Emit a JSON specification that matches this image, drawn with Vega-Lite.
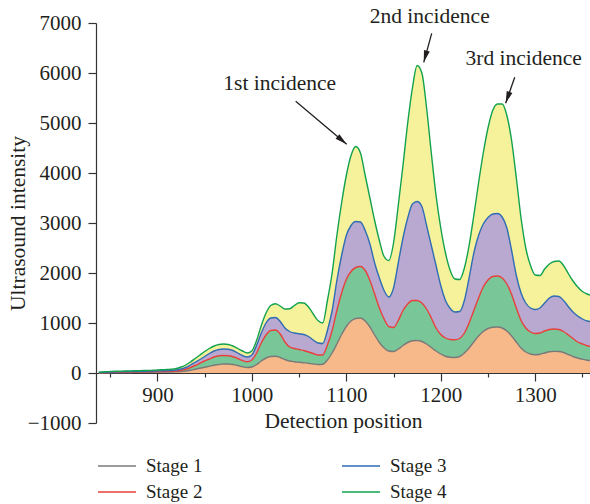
{
  "$schema": "https://vega.github.io/schema/vega-lite/v6.json",
  "width": 494,
  "height": 400,
  "autosize": {"type": "none"},
  "padding": {"left": 96, "top": 23, "right": 0, "bottom": 81},
  "background": "white",
  "config": {"view": {"stroke": null}, "font": "Liberation Serif"},
  "datasets": {
    "curves": [
      {"x":838,"Stage 1":0,"Stage 2":5,"Stage 3":10,"Stage 4":15},
      {"x":845,"Stage 1":5,"Stage 2":10,"Stage 3":15,"Stage 4":25},
      {"x":850,"Stage 1":5,"Stage 2":12,"Stage 3":20,"Stage 4":30},
      {"x":855,"Stage 1":8,"Stage 2":15,"Stage 3":22,"Stage 4":35},
      {"x":860,"Stage 1":8,"Stage 2":15,"Stage 3":25,"Stage 4":35},
      {"x":865,"Stage 1":10,"Stage 2":18,"Stage 3":28,"Stage 4":40},
      {"x":870,"Stage 1":10,"Stage 2":20,"Stage 3":30,"Stage 4":40},
      {"x":875,"Stage 1":12,"Stage 2":20,"Stage 3":30,"Stage 4":45},
      {"x":880,"Stage 1":12,"Stage 2":22,"Stage 3":32,"Stage 4":45},
      {"x":885,"Stage 1":15,"Stage 2":25,"Stage 3":35,"Stage 4":50},
      {"x":890,"Stage 1":15,"Stage 2":25,"Stage 3":38,"Stage 4":50},
      {"x":895,"Stage 1":15,"Stage 2":28,"Stage 3":40,"Stage 4":55},
      {"x":900,"Stage 1":18,"Stage 2":30,"Stage 3":42,"Stage 4":60},
      {"x":905,"Stage 1":18,"Stage 2":30,"Stage 3":45,"Stage 4":65},
      {"x":910,"Stage 1":20,"Stage 2":32,"Stage 3":48,"Stage 4":70},
      {"x":915,"Stage 1":20,"Stage 2":35,"Stage 3":50,"Stage 4":75},
      {"x":920,"Stage 1":25,"Stage 2":40,"Stage 3":60,"Stage 4":90},
      {"x":925,"Stage 1":30,"Stage 2":55,"Stage 3":80,"Stage 4":120},
      {"x":930,"Stage 1":40,"Stage 2":75,"Stage 3":110,"Stage 4":160},
      {"x":935,"Stage 1":55,"Stage 2":110,"Stage 3":160,"Stage 4":220},
      {"x":940,"Stage 1":75,"Stage 2":150,"Stage 3":215,"Stage 4":290},
      {"x":945,"Stage 1":95,"Stage 2":195,"Stage 3":270,"Stage 4":360},
      {"x":950,"Stage 1":115,"Stage 2":240,"Stage 3":330,"Stage 4":430},
      {"x":955,"Stage 1":135,"Stage 2":280,"Stage 3":390,"Stage 4":490},
      {"x":960,"Stage 1":155,"Stage 2":320,"Stage 3":440,"Stage 4":540},
      {"x":965,"Stage 1":170,"Stage 2":345,"Stage 3":470,"Stage 4":570},
      {"x":970,"Stage 1":180,"Stage 2":350,"Stage 3":480,"Stage 4":580},
      {"x":975,"Stage 1":180,"Stage 2":345,"Stage 3":475,"Stage 4":570},
      {"x":980,"Stage 1":170,"Stage 2":325,"Stage 3":450,"Stage 4":540},
      {"x":985,"Stage 1":150,"Stage 2":290,"Stage 3":400,"Stage 4":490},
      {"x":990,"Stage 1":125,"Stage 2":250,"Stage 3":350,"Stage 4":440},
      {"x":995,"Stage 1":110,"Stage 2":225,"Stage 3":320,"Stage 4":400},
      {"x":1000,"Stage 1":120,"Stage 2":260,"Stage 3":360,"Stage 4":440},
      {"x":1005,"Stage 1":170,"Stage 2":400,"Stage 3":550,"Stage 4":650},
      {"x":1010,"Stage 1":240,"Stage 2":600,"Stage 3":800,"Stage 4":950},
      {"x":1015,"Stage 1":300,"Stage 2":760,"Stage 3":1000,"Stage 4":1200},
      {"x":1020,"Stage 1":330,"Stage 2":850,"Stage 3":1100,"Stage 4":1350},
      {"x":1025,"Stage 1":335,"Stage 2":860,"Stage 3":1110,"Stage 4":1385},
      {"x":1030,"Stage 1":310,"Stage 2":780,"Stage 3":1030,"Stage 4":1340},
      {"x":1035,"Stage 1":270,"Stage 2":620,"Stage 3":900,"Stage 4":1280},
      {"x":1040,"Stage 1":240,"Stage 2":520,"Stage 3":830,"Stage 4":1285},
      {"x":1045,"Stage 1":225,"Stage 2":490,"Stage 3":800,"Stage 4":1350},
      {"x":1050,"Stage 1":215,"Stage 2":470,"Stage 3":785,"Stage 4":1405},
      {"x":1055,"Stage 1":205,"Stage 2":450,"Stage 3":770,"Stage 4":1400},
      {"x":1060,"Stage 1":195,"Stage 2":420,"Stage 3":730,"Stage 4":1320},
      {"x":1065,"Stage 1":180,"Stage 2":390,"Stage 3":660,"Stage 4":1180},
      {"x":1070,"Stage 1":170,"Stage 2":360,"Stage 3":600,"Stage 4":1050},
      {"x":1075,"Stage 1":175,"Stage 2":360,"Stage 3":590,"Stage 4":1000},
      {"x":1080,"Stage 1":260,"Stage 2":560,"Stage 3":850,"Stage 4":1450},
      {"x":1085,"Stage 1":400,"Stage 2":850,"Stage 3":1250,"Stage 4":2000},
      {"x":1090,"Stage 1":580,"Stage 2":1250,"Stage 3":1850,"Stage 4":2750},
      {"x":1095,"Stage 1":770,"Stage 2":1600,"Stage 3":2350,"Stage 4":3400},
      {"x":1100,"Stage 1":930,"Stage 2":1870,"Stage 3":2750,"Stage 4":3950},
      {"x":1105,"Stage 1":1040,"Stage 2":2030,"Stage 3":2950,"Stage 4":4350},
      {"x":1110,"Stage 1":1090,"Stage 2":2110,"Stage 3":3030,"Stage 4":4530},
      {"x":1115,"Stage 1":1100,"Stage 2":2130,"Stage 3":3020,"Stage 4":4400},
      {"x":1120,"Stage 1":1040,"Stage 2":2050,"Stage 3":2850,"Stage 4":3950},
      {"x":1125,"Stage 1":920,"Stage 2":1850,"Stage 3":2580,"Stage 4":3500},
      {"x":1130,"Stage 1":760,"Stage 2":1580,"Stage 3":2200,"Stage 4":3050},
      {"x":1135,"Stage 1":610,"Stage 2":1300,"Stage 3":1900,"Stage 4":2650},
      {"x":1140,"Stage 1":500,"Stage 2":1080,"Stage 3":1650,"Stage 4":2330},
      {"x":1145,"Stage 1":440,"Stage 2":930,"Stage 3":1520,"Stage 4":2250},
      {"x":1150,"Stage 1":430,"Stage 2":910,"Stage 3":1700,"Stage 4":2600},
      {"x":1155,"Stage 1":480,"Stage 2":1050,"Stage 3":2200,"Stage 4":3350},
      {"x":1160,"Stage 1":550,"Stage 2":1250,"Stage 3":2700,"Stage 4":4150},
      {"x":1165,"Stage 1":610,"Stage 2":1380,"Stage 3":3100,"Stage 4":5000},
      {"x":1170,"Stage 1":645,"Stage 2":1450,"Stage 3":3380,"Stage 4":5700},
      {"x":1175,"Stage 1":650,"Stage 2":1450,"Stage 3":3430,"Stage 4":6150},
      {"x":1180,"Stage 1":630,"Stage 2":1400,"Stage 3":3330,"Stage 4":6000},
      {"x":1185,"Stage 1":580,"Stage 2":1280,"Stage 3":2950,"Stage 4":5300},
      {"x":1190,"Stage 1":510,"Stage 2":1100,"Stage 3":2550,"Stage 4":4400},
      {"x":1195,"Stage 1":440,"Stage 2":900,"Stage 3":2150,"Stage 4":3550},
      {"x":1200,"Stage 1":380,"Stage 2":770,"Stage 3":1750,"Stage 4":2900},
      {"x":1205,"Stage 1":335,"Stage 2":700,"Stage 3":1450,"Stage 4":2400},
      {"x":1210,"Stage 1":315,"Stage 2":670,"Stage 3":1290,"Stage 4":2050},
      {"x":1215,"Stage 1":310,"Stage 2":665,"Stage 3":1220,"Stage 4":1880},
      {"x":1220,"Stage 1":330,"Stage 2":690,"Stage 3":1230,"Stage 4":1870},
      {"x":1225,"Stage 1":400,"Stage 2":800,"Stage 3":1450,"Stage 4":2100},
      {"x":1230,"Stage 1":500,"Stage 2":1000,"Stage 3":1900,"Stage 4":2550},
      {"x":1235,"Stage 1":620,"Stage 2":1250,"Stage 3":2400,"Stage 4":3150},
      {"x":1240,"Stage 1":740,"Stage 2":1500,"Stage 3":2750,"Stage 4":3800},
      {"x":1245,"Stage 1":830,"Stage 2":1720,"Stage 3":2980,"Stage 4":4400},
      {"x":1250,"Stage 1":890,"Stage 2":1860,"Stage 3":3110,"Stage 4":4900},
      {"x":1255,"Stage 1":915,"Stage 2":1930,"Stage 3":3180,"Stage 4":5250},
      {"x":1260,"Stage 1":920,"Stage 2":1940,"Stage 3":3190,"Stage 4":5380},
      {"x":1265,"Stage 1":900,"Stage 2":1900,"Stage 3":3120,"Stage 4":5380},
      {"x":1270,"Stage 1":840,"Stage 2":1780,"Stage 3":2900,"Stage 4":5150},
      {"x":1275,"Stage 1":740,"Stage 2":1570,"Stage 3":2450,"Stage 4":4650},
      {"x":1280,"Stage 1":620,"Stage 2":1300,"Stage 3":1950,"Stage 4":3900},
      {"x":1285,"Stage 1":500,"Stage 2":1050,"Stage 3":1600,"Stage 4":3100},
      {"x":1290,"Stage 1":420,"Stage 2":900,"Stage 3":1400,"Stage 4":2500},
      {"x":1295,"Stage 1":380,"Stage 2":820,"Stage 3":1300,"Stage 4":2150},
      {"x":1300,"Stage 1":365,"Stage 2":790,"Stage 3":1270,"Stage 4":1960},
      {"x":1305,"Stage 1":375,"Stage 2":800,"Stage 3":1300,"Stage 4":1950},
      {"x":1310,"Stage 1":400,"Stage 2":840,"Stage 3":1400,"Stage 4":2080},
      {"x":1315,"Stage 1":425,"Stage 2":870,"Stage 3":1500,"Stage 4":2180},
      {"x":1320,"Stage 1":432,"Stage 2":880,"Stage 3":1540,"Stage 4":2230},
      {"x":1325,"Stage 1":430,"Stage 2":870,"Stage 3":1530,"Stage 4":2240},
      {"x":1330,"Stage 1":410,"Stage 2":830,"Stage 3":1450,"Stage 4":2150},
      {"x":1335,"Stage 1":370,"Stage 2":760,"Stage 3":1330,"Stage 4":1990},
      {"x":1340,"Stage 1":330,"Stage 2":690,"Stage 3":1220,"Stage 4":1840},
      {"x":1345,"Stage 1":300,"Stage 2":620,"Stage 3":1140,"Stage 4":1720},
      {"x":1350,"Stage 1":275,"Stage 2":580,"Stage 3":1080,"Stage 4":1630},
      {"x":1355,"Stage 1":255,"Stage 2":545,"Stage 3":1040,"Stage 4":1580},
      {"x":1358,"Stage 1":250,"Stage 2":530,"Stage 3":1030,"Stage 4":1560}
    ],
    "notes": [
      {"t":"1st incidence","x":1029.5,"y":5775},
      {"t":"2nd incidence","x":1188.3,"y":7112},
      {"t":"3rd incidence","x":1287.8,"y":6273}
    ],
    "arrows": [
      {"n":1,"xs":1046.4,"ys":5435,"xe":1100.4,"ye":4577},
      {"n":2,"xs":1190.4,"ys":6793,"xe":1182,"ye":6214},
      {"n":3,"xs":1278.3,"ys":5914,"xe":1268.7,"ye":5395}
    ]
  },
  "encoding": {
    "x": {
      "field": "x", "type": "quantitative", "title": "Detection position",
      "scale": {"domain": [835, 1358], "nice": false, "zero": false},
      "axis": {
        "values": [850,900,950,1000,1050,1100,1150,1200,1250,1300,1350],
        "format": "d",
        "labelExpr": "datum.value % 100 === 0 ? datum.label : ''",
        "tickSize": {"condition": {"test": "datum.value % 100 === 0", "value": 8}, "value": 4},
        "offset": -50,
        "grid": false,
        "labelFont": "Liberation Serif", "labelFontSize": 21, "labelColor": "#231f20",
        "labelPadding": 3,
        "titleFont": "Liberation Serif", "titleFontSize": 21.5, "titleFontWeight": "normal", "titleColor": "#231f20",
        "titlePadding": 5,
        "domainColor": "#333333", "tickColor": "#333333", "domainWidth": 1.2, "tickWidth": 1.2
      }
    }
  },
  "layer": [
    {
      "data": {"name": "curves"},
      "mark": {"type": "area", "interpolate": "monotone", "color": "#f6f19b"},
      "encoding": {
        "y": {
          "field": "Stage 4", "type": "quantitative", "title": "Ultrasound intensity",
          "scale": {"domain": [-1000, 7000], "nice": false},
          "axis": {
            "values": [-1000,-500,0,500,1000,1500,2000,2500,3000,3500,4000,4500,5000,5500,6000,6500,7000],
            "format": "d",
            "labelExpr": "datum.value % 1000 === 0 ? datum.label : ''",
            "tickSize": {"condition": {"test": "datum.value % 1000 === 0", "value": 8}, "value": 5},
            "grid": false,
            "labelFont": "Liberation Serif", "labelFontSize": 21, "labelColor": "#231f20",
            "labelPadding": 7,
            "titleFont": "Liberation Serif", "titleFontSize": 21.5, "titleFontWeight": "normal", "titleColor": "#231f20",
            "titlePadding": -2,
            "domainColor": "#333333", "tickColor": "#333333", "domainWidth": 1.2, "tickWidth": 1.2
          }
        }
      }
    },
    {
      "data": {"name": "curves"},
      "mark": {"type": "area", "interpolate": "monotone", "color": "#b9a8d0"},
      "encoding": {"y": {"field": "Stage 3", "type": "quantitative", "title": "Ultrasound intensity"}}
    },
    {
      "data": {"name": "curves"},
      "mark": {"type": "area", "interpolate": "monotone", "color": "#79c798"},
      "encoding": {"y": {"field": "Stage 2", "type": "quantitative", "title": "Ultrasound intensity"}}
    },
    {
      "data": {"name": "curves"},
      "mark": {"type": "area", "interpolate": "monotone", "color": "#f8b98a"},
      "encoding": {"y": {"field": "Stage 1", "type": "quantitative", "title": "Ultrasound intensity"}}
    },
    {
      "data": {"name": "curves"},
      "transform": [{"fold": ["Stage 1", "Stage 2", "Stage 3", "Stage 4"], "as": ["stage", "value"]}],
      "mark": {"type": "line", "interpolate": "monotone", "strokeWidth": 1.4},
      "encoding": {
        "y": {"field": "value", "type": "quantitative", "title": "Ultrasound intensity"},
        "color": {
          "field": "stage", "type": "nominal",
          "scale": {"domain": ["Stage 1", "Stage 2", "Stage 3", "Stage 4"], "range": ["#7a7a7a", "#e8413c", "#2f6db4", "#12a24f"]},
          "legend": {
            "orient": "none", "legendX": 1, "legendY": 433,
            "columns": 2, "title": null,
            "symbolType": "stroke", "symbolSize": 1444, "symbolStrokeWidth": 1.5,
            "clipHeight": 20,
            "labelFont": "Liberation Serif", "labelFontSize": 19, "labelColor": "#231f20",
            "labelOffset": 9, "columnPadding": 138, "rowPadding": 6
          }
        }
      }
    },
    {
      "data": {"name": "arrows"},
      "mark": {"type": "rule", "color": "#231f20", "strokeWidth": 1.3},
      "encoding": {
        "x": {"field": "xs", "type": "quantitative", "title": "Detection position"},
        "y": {"field": "ys", "type": "quantitative", "title": "Ultrasound intensity"},
        "x2": {"field": "xe"},
        "y2": {"field": "ye"}
      }
    },
    {
      "data": {"name": "arrows"},
      "transform": [{"filter": "datum.n === 1"}],
      "mark": {"type": "point", "shape": "M0,0L0.5,2L-0.5,2Z", "size": 144, "filled": true, "color": "#231f20", "opacity": 1, "angle": 130},
      "encoding": {
        "x": {"field": "xe", "type": "quantitative", "title": "Detection position"},
        "y": {"field": "ye", "type": "quantitative", "title": "Ultrasound intensity"}
      }
    },
    {
      "data": {"name": "arrows"},
      "transform": [{"filter": "datum.n === 2"}],
      "mark": {"type": "point", "shape": "M0,0L0.5,2L-0.5,2Z", "size": 144, "filled": true, "color": "#231f20", "opacity": 1, "angle": 195},
      "encoding": {
        "x": {"field": "xe", "type": "quantitative", "title": "Detection position"},
        "y": {"field": "ye", "type": "quantitative", "title": "Ultrasound intensity"}
      }
    },
    {
      "data": {"name": "arrows"},
      "transform": [{"filter": "datum.n === 3"}],
      "mark": {"type": "point", "shape": "M0,0L0.5,2L-0.5,2Z", "size": 144, "filled": true, "color": "#231f20", "opacity": 1, "angle": 199},
      "encoding": {
        "x": {"field": "xe", "type": "quantitative", "title": "Detection position"},
        "y": {"field": "ye", "type": "quantitative", "title": "Ultrasound intensity"}
      }
    },
    {
      "data": {"name": "notes"},
      "mark": {"type": "text", "font": "Liberation Serif", "fontSize": 21.5, "color": "#231f20", "align": "center", "baseline": "middle"},
      "encoding": {
        "x": {"field": "x", "type": "quantitative", "title": "Detection position"},
        "y": {"field": "y", "type": "quantitative", "title": "Ultrasound intensity"},
        "text": {"field": "t"}
      }
    }
  ]
}
